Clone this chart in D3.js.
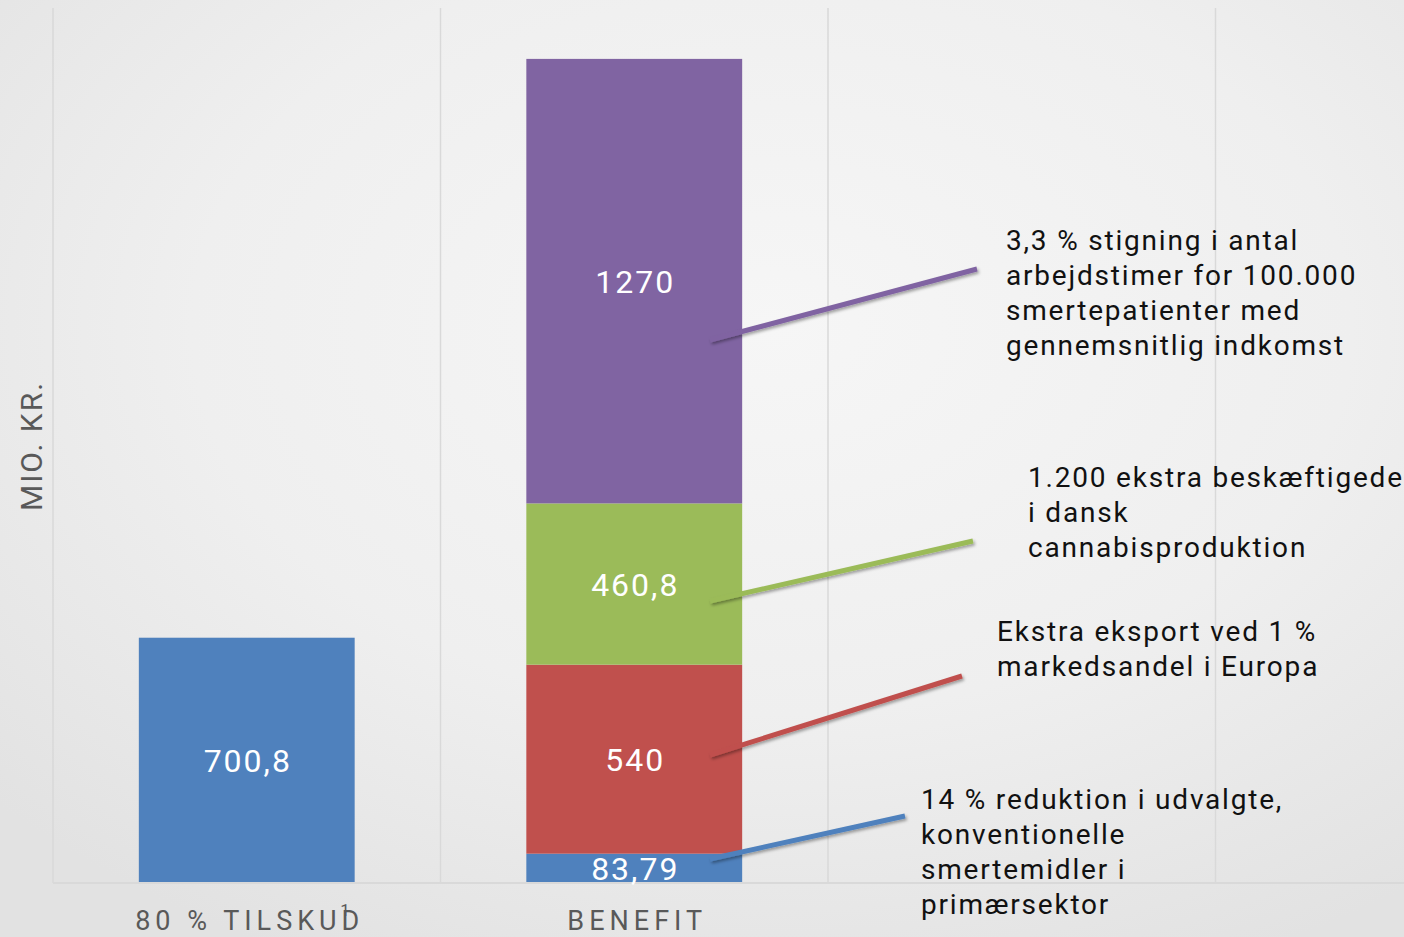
<!DOCTYPE html>
<html>
<head>
<meta charset="utf-8">
<script src="https://cdn.jsdelivr.net/npm/d3@7"></script>
<style>
  html, body { margin: 0; padding: 0; background: #ececec; }
  svg { display: block; }
</style>
</head>
<body>
<svg id="chart" width="1404" height="937"></svg>
<script>
// Category slots along the x axis (two labelled, two empty slots to the right)
const categories = ["80 % TILSKUD", "BENEFIT", "", ""];
const categoryFootnotes = ["1", "", "", ""];

// Single bar for the subsidy
const subsidyValue = [700.8];
const subsidyLabels = ["700,8"];

// Stacked benefit components, bottom to top
const benefitKeys = ["medicin", "eksport", "produktion", "arbejdstimer"];
const benefitValues = [83.79, 540, 460.8, 1270];
const benefitLabels = ["83,79", "540", "460,8", "1270"];
const benefitNotes = [
  ["14 % reduktion i udvalgte,", "konventionelle", "smertemidler i", "primærsektor"],
  ["Ekstra eksport ved 1 %", "markedsandel i Europa"],
  ["1.200 ekstra beskæftigede", "i dansk", "cannabisproduktion"],
  ["3,3 % stigning i antal", "arbejdstimer for 100.000", "smertepatienter med", "gennemsnitlig indkomst"]
];
const yMax = [2500];
const yTitle = "MIO. KR.";

const colors = { medicin: "#4f81bd", eksport: "#c0504d", produktion: "#9bbb59", arbejdstimer: "#8064a2" };

// Leader-line and note-block placement (pixels)
const noteLayout = [
  { x1: 710, y1: 859, x2: 905, y2: 816, tx: 921, ty: 809 },
  { x1: 710, y1: 755, x2: 962, y2: 676, tx: 997, ty: 641 },
  { x1: 710, y1: 601, x2: 973, y2: 541, tx: 1028, ty: 487 },
  { x1: 710, y1: 340, x2: 977, y2: 269, tx: 1006, ty: 250 }
];

const W = 1404, H = 937;
const svg = d3.select("#chart");
const defs = svg.append("defs");

// Soft radial backdrop
const bg = defs.append("radialGradient").attr("id", "bg")
  .attr("cx", "0.55").attr("cy", "0.35").attr("r", "0.75");
bg.append("stop").attr("offset", "0").attr("stop-color", "#f6f6f6");
bg.append("stop").attr("offset", "0.55").attr("stop-color", "#efefef");
bg.append("stop").attr("offset", "1").attr("stop-color", "#e2e2e2");
svg.append("rect").attr("width", W).attr("height", H).attr("fill", "url(#bg)");

const shadow = defs.append("filter").attr("id", "shadow")
  .attr("x", "-10%").attr("y", "-50%").attr("width", "120%").attr("height", "200%");
shadow.append("feDropShadow").attr("dx", 1.5).attr("dy", 2).attr("stdDeviation", 1.5)
  .attr("flood-color", "#000").attr("flood-opacity", 0.35);

const plotLeft = 53, step = 387.5, baseY = 883, topY = 8;
const x = d3.scaleBand()
  .domain(d3.range(categories.length))
  .range([plotLeft, plotLeft + step * categories.length])
  .paddingInner(0.443).paddingOuter(0.2215);
const y = d3.scaleLinear().domain([0, yMax[0]]).range([baseY, topY]);

// Vertical category gridlines at slot boundaries
const gridX = d3.range(categories.length).map(i => plotLeft + i * step);
svg.append("g").selectAll("line").data(gridX).join("line")
  .attr("x1", d => d).attr("x2", d => d)
  .attr("y1", topY).attr("y2", baseY)
  .attr("stroke", "#d9d9d9").attr("stroke-width", 1.5);

// Subsidy bar
svg.append("g").selectAll("rect").data(subsidyValue).join("rect")
  .attr("x", x(0)).attr("width", x.bandwidth())
  .attr("y", d => y(d)).attr("height", d => y(0) - y(d))
  .attr("fill", colors.medicin);

// Stacked benefit bar
const stackRow = {};
benefitKeys.forEach((k, i) => stackRow[k] = benefitValues[i]);
const series = d3.stack().keys(benefitKeys)([stackRow]);
svg.append("g").selectAll("rect").data(series).join("rect")
  .attr("x", x(1)).attr("width", x.bandwidth())
  .attr("y", d => y(d[0][1])).attr("height", d => y(d[0][0]) - y(d[0][1]))
  .attr("fill", d => colors[d.key]);

// Baseline
svg.append("line")
  .attr("x1", plotLeft).attr("x2", W).attr("y1", baseY).attr("y2", baseY)
  .attr("stroke", "#d9d9d9").attr("stroke-width", 2);

// Value labels
const valFont = "Roboto, 'Open Sans', sans-serif";
svg.append("g").selectAll("text").data(subsidyValue).join("text")
  .attr("x", x(0) + x.bandwidth() / 2 + 1).attr("y", d => (y(d) + y(0)) / 2)
  .attr("text-anchor", "middle").attr("dy", "0.36em")
  .attr("font-family", valFont).attr("font-size", 32).attr("letter-spacing", 2)
  .attr("fill", "#fff")
  .text((d, i) => subsidyLabels[i]);
svg.append("g").selectAll("text").data(series).join("text")
  .attr("x", x(1) + x.bandwidth() / 2 + 1)
  .attr("y", d => (y(d[0][0]) + y(d[0][1])) / 2)
  .attr("text-anchor", "middle").attr("dy", "0.36em")
  .attr("font-family", valFont).attr("font-size", 32).attr("letter-spacing", 2)
  .attr("fill", "#fff")
  .text((d, i) => benefitLabels[i]);

// Leader lines
svg.append("g").attr("filter", "url(#shadow)").selectAll("line").data(noteLayout).join("line")
  .attr("x1", d => d.x1).attr("y1", d => d.y1).attr("x2", d => d.x2).attr("y2", d => d.y2)
  .attr("stroke", (d, i) => colors[benefitKeys[i]]).attr("stroke-width", 5);

// Note blocks
const notes = svg.append("g").selectAll("text").data(noteLayout).join("text")
  .attr("x", d => d.tx).attr("y", d => d.ty)
  .attr("font-family", valFont).attr("font-size", 28).attr("letter-spacing", 1.8)
  .attr("fill", "#111");
notes.each(function(d, i) {
  d3.select(this).selectAll("tspan").data(benefitNotes[i]).join("tspan")
    .attr("x", d.tx).attr("dy", (t, j) => j === 0 ? 0 : 35).text(t => t);
});

// Category labels, with a footnote marker sitting over the last letter
const catLabels = svg.append("g").selectAll("text").data(categories).join("text")
  .attr("x", (d, i) => x(i) + x.bandwidth() / 2 + 3).attr("y", 930)
  .attr("text-anchor", "middle")
  .attr("font-family", valFont).attr("font-size", 27).attr("letter-spacing", 5)
  .attr("fill", "#595959");
catLabels.each(function(d, i) {
  const t = d3.select(this);
  t.append("tspan").text(d);
  if (categoryFootnotes[i]) {
    t.append("tspan").attr("dx", -24).attr("dy", -14)
      .attr("font-size", 17).attr("letter-spacing", 0).text(categoryFootnotes[i]);
  }
});

// Y axis title
svg.append("text")
  .attr("transform", "translate(42,446) rotate(-90)")
  .attr("text-anchor", "middle")
  .attr("font-family", valFont).attr("font-size", 30).attr("letter-spacing", 2)
  .attr("fill", "#595959").text(yTitle);
</script>
</body>
</html>
